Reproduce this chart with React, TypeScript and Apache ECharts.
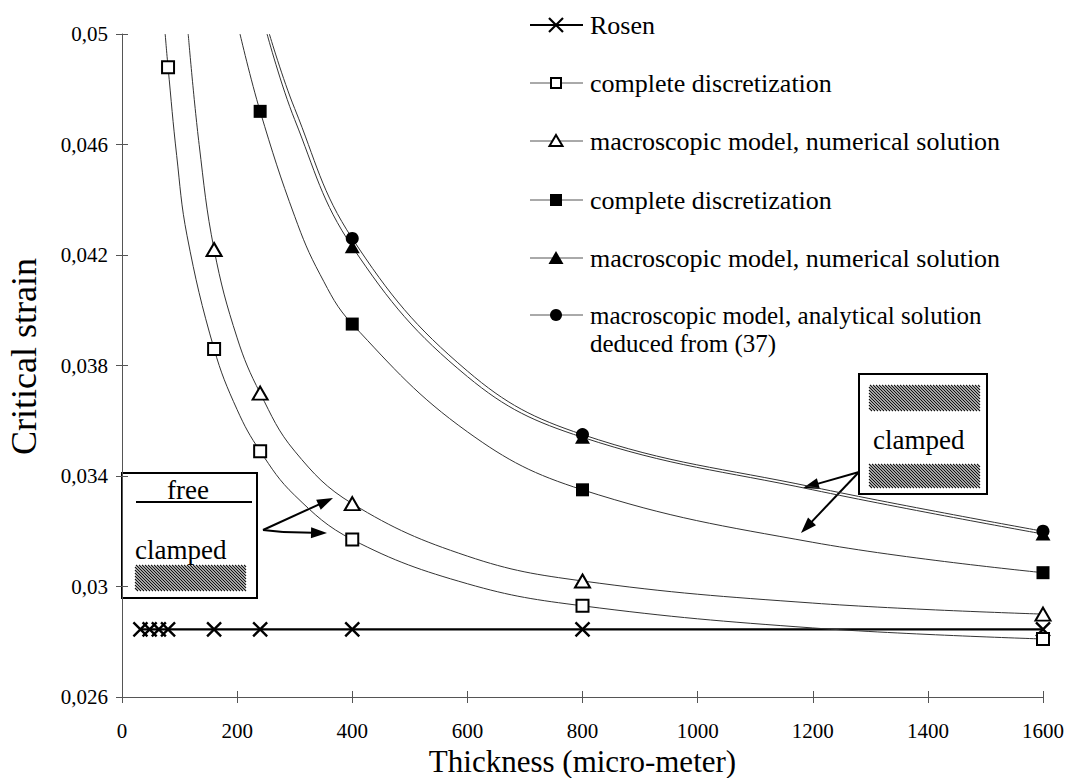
import React, { useEffect, useRef } from 'react';
import * as echarts from 'echarts';

const FONT = 'Liberation Serif';

const xMin = 0;
const xMax = 1600;
const xInterval = 200;
const yTicks = [0.026, 0.03, 0.034, 0.038, 0.042, 0.046, 0.05];

const seriesNames = [
  'Rosen',
  'complete discretization',
  'macroscopic model, numerical solution',
  'complete discretization',
  'macroscopic model, numerical solution',
  'macroscopic model, analytical solution\ndeduced from (37)',
];

// Rosen
const rosenX = [32, 48, 64, 80, 160, 240, 400, 800, 1600];
const rosenY = [0.02845, 0.02845, 0.02845, 0.02845, 0.02845, 0.02845, 0.02845, 0.02845, 0.02845];

// complete discretization (open squares)
const openSqX = [80, 160, 240, 400, 800, 1600];
const openSqY = [0.0488, 0.0386, 0.0349, 0.0317, 0.0293, 0.0281];
const openSqCurveX = [75, 95, 113, 200, 300, 600, 1200];
const openSqCurveY = [0.05, 0.0456, 0.0427, 0.0364, 0.0333, 0.0301, 0.0285];

// macroscopic model, numerical (open triangles)
const openTriX = [160, 240, 400, 800, 1600];
const openTriY = [0.0422, 0.037, 0.033, 0.0302, 0.029];
const openTriCurveX = [115, 134, 200, 300, 600, 1200];
const openTriCurveY = [0.05, 0.046, 0.039, 0.0349, 0.0311, 0.0294];

// complete discretization (filled squares)
const fillSqX = [240, 400, 800, 1600];
const fillSqY = [0.0472, 0.0395, 0.0335, 0.0305];
const fillSqCurveX = [205, 300, 344, 600, 1200];
const fillSqCurveY = [0.05, 0.0434, 0.0413, 0.0356, 0.0316];

// macroscopic model, numerical (filled triangles)
const fillTriX = [400, 800, 1600];
const fillTriY = [0.0423, 0.0354, 0.0319];
const fillTriCurveX = [252, 300, 600, 1200];
const fillTriCurveY = [0.05, 0.0469, 0.0376, 0.0335];

// macroscopic model, analytical (filled circles)
const circX = [400, 800, 1600];
const circY = [0.0426, 0.0355, 0.032];
const circCurveX = [256, 300, 600, 1200];
const circCurveY = [0.05, 0.0473, 0.0378, 0.0336];

const CROSS = 'path://M0,0L10,10M10,0L0,10';

function buildData(mx: number[], my: number[], cx: number[], cy: number[]) {
  const pts: any[] = [
    ...mx.map((x, i) => ({ value: [x, my[i]] })),
    ...cx.map((x, i) => ({ value: [x, cy[i]], symbol: 'none' })),
  ];
  pts.sort((a, b) => a.value[0] - b.value[0]);
  return pts;
}

function hatch(x0: number, y0: number, w: number, h: number, step: number) {
  const els: any[] = [];
  for (let k = x0 - (y0 + h); k <= x0 + w - y0; k += step) {
    const ya = Math.max(y0, x0 - k);
    const yb = Math.min(y0 + h, x0 + w - k);
    if (yb > ya) {
      els.push({
        type: 'line',
        silent: true,
        shape: { x1: ya + k, y1: ya, x2: yb + k, y2: yb },
        style: { stroke: '#111', lineWidth: 1.1 },
      });
    }
  }
  return els;
}

function arrow(x1: number, y1: number, x2: number, y2: number) {
  const a = Math.atan2(y2 - y1, x2 - x1);
  const L = 16;
  const W = 5.5;
  const c = Math.cos(a);
  const s = Math.sin(a);
  const bx = x2 - L * c;
  const by = y2 - L * s;
  return [
    {
      type: 'line',
      silent: true,
      shape: { x1, y1, x2: bx + 2 * c, y2: by + 2 * s },
      style: { stroke: '#000', lineWidth: 2 },
    },
    {
      type: 'polygon',
      silent: true,
      shape: { points: [[x2, y2], [bx + W * s, by - W * c], [bx - W * s, by + W * c]] },
      style: { fill: '#000' },
    },
  ];
}

const legendRows = [25, 83, 141, 200, 258, 315];

function legendSymbol(i: number, cx: number, cy: number): any[] {
  switch (i) {
    case 0:
      return [
        { type: 'line', shape: { x1: cx - 7, y1: cy - 7, x2: cx + 7, y2: cy + 7 }, style: { stroke: '#000', lineWidth: 2.2 } },
        { type: 'line', shape: { x1: cx + 7, y1: cy - 7, x2: cx - 7, y2: cy + 7 }, style: { stroke: '#000', lineWidth: 2.2 } },
      ];
    case 1:
      return [{ type: 'rect', shape: { x: cx - 5, y: cy - 5, width: 10, height: 10 }, style: { fill: '#fff', stroke: '#000', lineWidth: 2 } }];
    case 2:
      return [{ type: 'polygon', shape: { points: [[cx, cy - 6], [cx + 6.5, cy + 5], [cx - 6.5, cy + 5]] }, style: { fill: '#fff', stroke: '#000', lineWidth: 2 } }];
    case 3:
      return [{ type: 'rect', shape: { x: cx - 6, y: cy - 6, width: 12, height: 12 }, style: { fill: '#000' } }];
    case 4:
      return [{ type: 'polygon', shape: { points: [[cx, cy - 7], [cx + 7.5, cy + 6], [cx - 7.5, cy + 6]] }, style: { fill: '#000' } }];
    default:
      return [{ type: 'circle', shape: { cx, cy, r: 6 }, style: { fill: '#000' } }];
  }
}

function txt(text: string, x: number, y: number, size: number, align: string) {
  return {
    type: 'text',
    silent: true,
    x,
    y,
    style: {
      text,
      fontFamily: FONT,
      fontSize: size,
      fill: '#000',
      align,
      verticalAlign: 'middle',
    },
  };
}

function buildLegend() {
  const els: any[] = [];
  seriesNames.forEach((name, i) => {
    const y = legendRows[i];
    els.push({
      type: 'line',
      silent: true,
      shape: { x1: 530, y1: y, x2: 583, y2: y },
      style: { stroke: i === 0 ? '#000' : '#555', lineWidth: i === 0 ? 2 : 1 },
    });
    legendSymbol(i, 556, y).forEach((e) => els.push({ ...e, silent: true }));
    const lines = name.split('\n');
    lines.forEach((line, j) => {
      els.push(txt(line, 590, y + j * 28, lines.length > 1 ? 25 : 26, 'left'));
    });
  });
  return els;
}

function buildAnnotations() {
  const els: any[] = [];
  // left box
  els.push({
    type: 'rect',
    silent: true,
    shape: { x: 122, y: 473, width: 135, height: 125 },
    style: { fill: '#fff', stroke: '#000', lineWidth: 2 },
  });
  els.push(txt('free', 188, 490, 27, 'center'));
  els.push({
    type: 'line',
    silent: true,
    shape: { x1: 136, y1: 502, x2: 252, y2: 502 },
    style: { stroke: '#000', lineWidth: 2 },
  });
  els.push(txt('clamped', 135, 550, 27, 'left'));
  els.push(...hatch(135, 565, 111, 26, 3));
  els.push(...arrow(263, 530, 333, 498));
  els.push({
    type: 'line',
    silent: true,
    shape: { x1: 263, y1: 530, x2: 283, y2: 532 },
    style: { stroke: '#000', lineWidth: 2 },
  });
  els.push(...arrow(283, 532, 327, 533));

  // right box
  els.push({
    type: 'rect',
    silent: true,
    shape: { x: 859, y: 374, width: 128, height: 120 },
    style: { fill: '#fff', stroke: '#000', lineWidth: 2 },
  });
  els.push(...hatch(869, 385, 111, 26, 3));
  els.push(txt('clamped', 873, 440, 27, 'left'));
  els.push(...hatch(869, 464, 111, 24, 3));
  els.push(...arrow(859, 472, 803, 488));
  els.push(...arrow(859, 472, 801, 533));
  return els;
}

const curveLine = { color: '#333', width: 1 };

export default function App() {
  const ref = useRef<HTMLDivElement>(null);

  useEffect(() => {
    if (!ref.current) return;
    const chart = echarts.init(ref.current, undefined, { renderer: 'svg' });
    const axisColor = '#555';
    const gridBox = { left: 122, right: 24, top: 34, bottom: 81, containLabel: false, outerBoundsMode: 'none' };
    const yFmt = (v: number) => String(+v.toFixed(3)).replace('.', ',');
    const xFmt = (v: number) => String(v);

    const option: any = {
      animation: false,
      backgroundColor: '#fff',
      textStyle: { fontFamily: FONT },
      grid: [{ ...gridBox }, { ...gridBox }],
      xAxis: [
        {
          type: 'value',
          gridIndex: 0,
          min: xMin,
          max: xMax,
          interval: xInterval,
          name: 'Thickness (micro-meter)',
          nameLocation: 'middle',
          nameGap: 48,
          nameTextStyle: { fontFamily: FONT, fontSize: 31, color: '#000' },
          axisLine: { show: true, lineStyle: { color: axisColor, width: 1 } },
          axisTick: { show: true, length: 6, lineStyle: { color: axisColor } },
          axisLabel: { fontFamily: FONT, fontSize: 21, color: '#000', margin: 23, formatter: xFmt },
          splitLine: { show: false },
        },
        {
          type: 'value',
          gridIndex: 1,
          min: xMin,
          max: xMax,
          interval: xInterval,
          axisLine: { show: false },
          axisTick: { show: true, inside: true, length: 6, lineStyle: { color: axisColor } },
          axisLabel: { show: false },
          splitLine: { show: false },
        },
      ],
      yAxis: [
        {
          type: 'value',
          gridIndex: 0,
          min: 0.026,
          max: 0.05,
          name: 'Critical strain',
          nameLocation: 'middle',
          nameGap: 80,
          nameRotate: 90,
          nameTextStyle: { fontFamily: FONT, fontSize: 36, color: '#000', padding: [0, 0, 0, 18] },
          axisLine: { show: true, lineStyle: { color: axisColor, width: 1 } },
          axisTick: { show: true, length: 6, customValues: yTicks, lineStyle: { color: axisColor } },
          axisLabel: { fontFamily: FONT, fontSize: 21, color: '#000', margin: 14, customValues: yTicks, formatter: yFmt },
          splitLine: { show: false },
        },
        {
          type: 'value',
          gridIndex: 1,
          min: 0.026,
          max: 0.05,
          axisLine: { show: false },
          axisTick: { show: true, inside: true, length: 6, customValues: yTicks, lineStyle: { color: axisColor } },
          axisLabel: { show: false, customValues: yTicks },
          splitLine: { show: false },
        },
      ],
      series: [
        {
          name: seriesNames[0],
          type: 'line',
          data: rosenX.map((x, i) => [x, rosenY[i]]),
          symbol: CROSS,
          symbolSize: 14,
          showAllSymbol: true,
          itemStyle: { color: 'none', borderColor: '#000', borderWidth: 2.4 },
          lineStyle: { color: '#000', width: 2.2 },
          z: 3,
        },
        {
          name: seriesNames[1],
          type: 'line',
          data: buildData(openSqX, openSqY, openSqCurveX, openSqCurveY),
          smooth: 0.4,
          symbol: 'rect',
          symbolSize: 12,
          showAllSymbol: true,
          itemStyle: { color: '#fff', borderColor: '#000', borderWidth: 2 },
          lineStyle: curveLine,
          z: 4,
        },
        {
          name: seriesNames[2],
          type: 'line',
          data: buildData(openTriX, openTriY, openTriCurveX, openTriCurveY),
          smooth: 0.4,
          symbol: 'triangle',
          symbolSize: [15, 13],
          showAllSymbol: true,
          itemStyle: { color: '#fff', borderColor: '#000', borderWidth: 2 },
          lineStyle: curveLine,
          z: 4,
        },
        {
          name: seriesNames[3],
          type: 'line',
          data: buildData(fillSqX, fillSqY, fillSqCurveX, fillSqCurveY),
          smooth: 0.4,
          symbol: 'rect',
          symbolSize: 13,
          showAllSymbol: true,
          itemStyle: { color: '#000', borderColor: '#000', borderWidth: 0 },
          lineStyle: curveLine,
          z: 4,
        },
        {
          name: seriesNames[4],
          type: 'line',
          data: buildData(fillTriX, fillTriY, fillTriCurveX, fillTriCurveY),
          smooth: 0.4,
          symbol: 'triangle',
          symbolSize: [15, 13],
          showAllSymbol: true,
          itemStyle: { color: '#000', borderColor: '#000', borderWidth: 0 },
          lineStyle: curveLine,
          z: 4,
        },
        {
          name: seriesNames[5],
          type: 'line',
          data: buildData(circX, circY, circCurveX, circCurveY),
          smooth: 0.4,
          symbol: 'circle',
          symbolSize: 13,
          showAllSymbol: true,
          itemStyle: { color: '#000', borderColor: '#000', borderWidth: 0 },
          lineStyle: curveLine,
          z: 4,
        },
      ],
      graphic: [...buildLegend(), ...buildAnnotations()],
    };

    chart.setOption(option);
    return () => {
      chart.dispose();
    };
  }, []);

  return (
    <div
      ref={ref}
      style={{ position: 'fixed', left: 0, top: 0, width: 1067, height: 778, background: '#fff' }}
    />
  );
}
